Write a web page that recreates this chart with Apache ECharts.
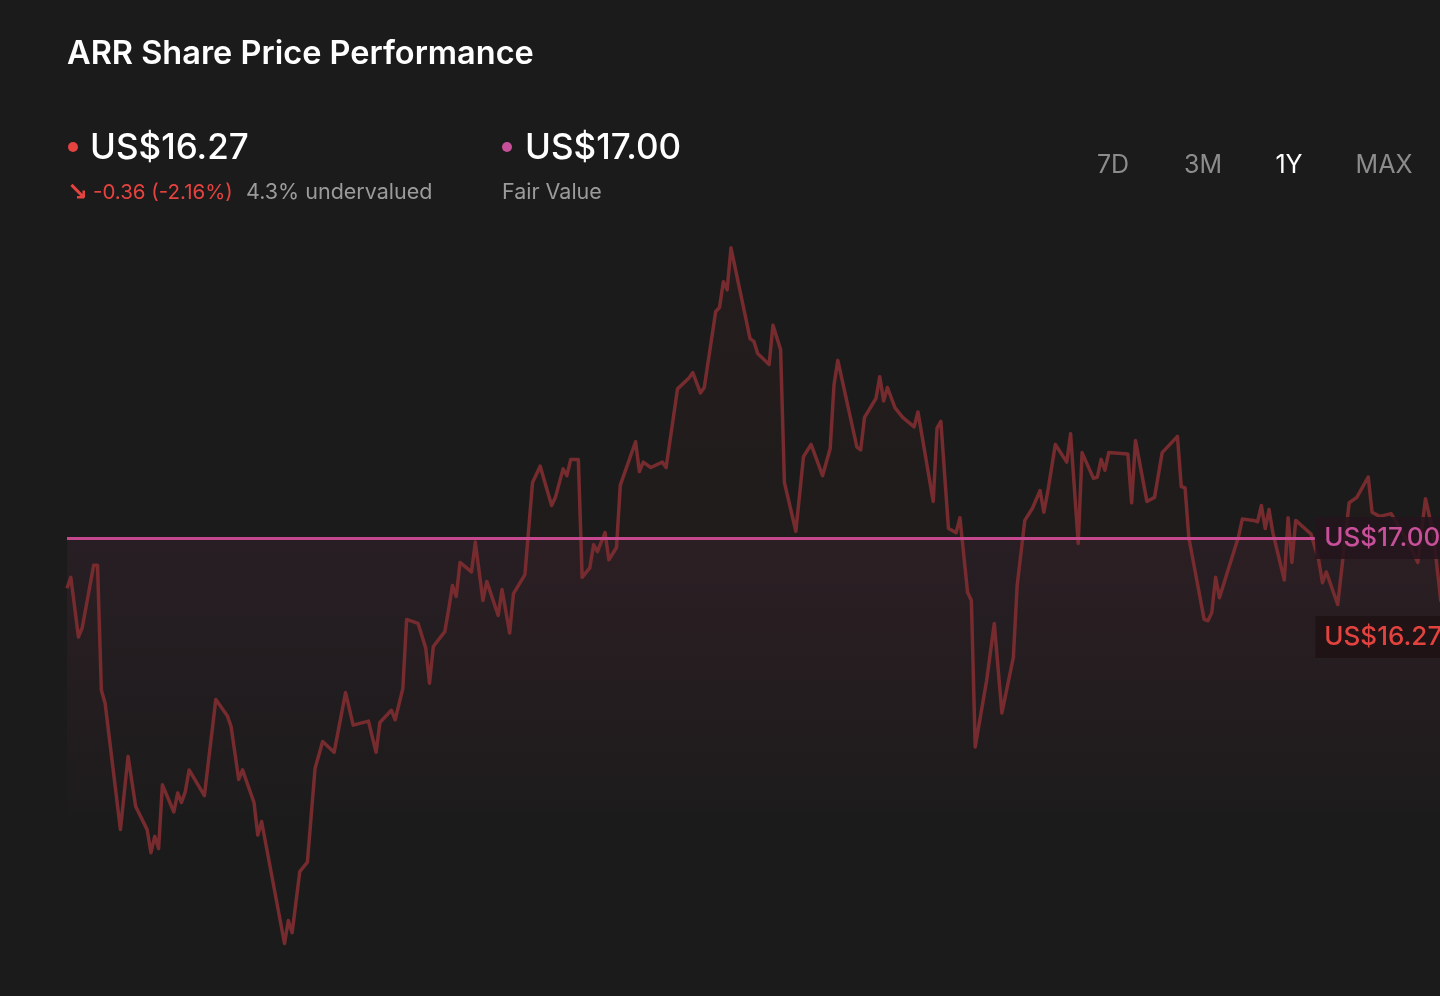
<!DOCTYPE html>
<html>
<head>
<meta charset="utf-8">
<title>ARR Share Price Performance</title>
<script src="https://cdn.jsdelivr.net/npm/echarts@6/dist/echarts.min.js"></script>
<style>
  html, body { margin: 0; padding: 0; background: #1b1b1b; overflow: hidden; }
  #chart { width: 1460px; height: 996px; }
</style>
</head>
<body>
<div id="chart"></div>
<script>
  // daily closes over the year (day index, US$)
  var days = [0,1,3,4,7,8,9,10,14,16,18,21,22,23,24,25,28,29,30,31,32,36,39,42,43,45,46,49,50,51,
    57,58,59,61,63,65,67,70,73,75,79,81,82,85,86,88,89,92,94,95,96,99,100,101,102,103,106,107,109,110,
    113,114,116,117,120,122,124,127,128,130,131,132,134,135,137,138,139,141,142,144,145,149,150,151,153,156,157,160,163,164,
    166,167,170,171,172,173,174,179,180,181,184,185,187,188,191,193,195,198,200,201,202,207,208,209,212,213,214,215,217,219,
    222,223,227,228,229,231,233,234,236,237,238,241,243,245,248,249,251,253,255,256,257,259,262,263,265,266,269,270,271,272,
    273,278,279,280,283,285,287,291,292,293,294,298,299,300,301,302,307,308,311,312,313,314,315,316,319,320,321,322,326,328,
    329,330,333,336,338,341,342,344,347,351,354,356,358,360,362,364];
  var prices = [16.63,16.71,16.27,16.34,16.80,16.80,15.88,15.78,14.85,15.39,15.02,14.85,14.68,14.80,14.71,15.18,14.98,15.12,15.05,15.13,15.29,15.10,15.81,15.69,15.61,15.22,15.29,15.05,14.81,14.91,
    14.01,14.18,14.09,14.54,14.61,15.30,15.50,15.42,15.86,15.62,15.65,15.42,15.64,15.73,15.66,15.89,16.40,16.37,16.19,15.93,16.20,16.31,16.47,16.65,16.57,16.82,16.75,16.97,16.54,16.68,
    16.43,16.62,16.30,16.59,16.73,17.41,17.53,17.24,17.30,17.51,17.46,17.58,17.58,16.71,16.78,16.95,16.90,17.04,16.84,16.93,17.39,17.71,17.49,17.56,17.52,17.56,17.52,18.10,18.18,18.22,
    18.07,18.11,18.67,18.70,18.89,18.83,19.14,18.47,18.45,18.36,18.28,18.57,18.39,17.41,17.05,17.60,17.69,17.46,17.66,18.13,18.31,17.67,17.65,17.89,18.03,18.19,18.01,18.11,17.96,17.89,
    17.82,17.93,17.27,17.81,17.86,17.07,17.04,17.15,16.60,16.54,15.46,15.95,16.37,15.71,16.12,16.65,17.13,17.22,17.35,17.19,17.34,17.69,17.56,17.77,16.96,17.63,17.44,17.45,17.58,17.50,
    17.63,17.62,17.26,17.72,17.27,17.30,17.63,17.75,17.38,17.37,17.00,16.40,16.39,16.45,16.71,16.56,17.01,17.14,17.13,17.12,17.24,17.07,17.21,17.04,16.69,17.15,16.82,17.13,17.03,16.84,
    16.67,16.75,16.51,17.26,17.30,17.45,17.19,17.16,17.18,16.99,16.82,17.29,17.04,16.54,16.45,16.27];

  var lastPrice = 16.27;
  var fairValue = 17.00;
  var periods = ['7D', '3M', '1Y', 'MAX'];
  var activePeriod = '1Y';

  var lastDay = days[days.length - 1];
  var labelDays = 37; // room kept at the right for the price tags

  var seriesData = [];
  for (var i = 0; i < days.length; i++) {
    seriesData.push([days[i], prices[i]]);
  }

  var font = 'Inter, Roboto, "Noto Sans", sans-serif';
  var chart = echarts.init(document.getElementById('chart'));

  var graphics = [
    { type: 'text', style: { text: 'ARR Share Price Performance', x: 67, y: 54, fill: '#ffffff',
      fontSize: 32.5, fontWeight: 600, fontFamily: font, verticalAlign: 'middle' } },
    { type: 'circle', shape: { cx: 73, cy: 147, r: 5 }, style: { fill: '#e5433f' } },
    { type: 'text', style: { text: 'US$' + lastPrice.toFixed(2), x: 90, y: 148, fill: '#ffffff',
      fontSize: 35, fontWeight: 500, fontFamily: font, verticalAlign: 'middle' } },
    { type: 'text', style: { text: '\u2198', x: 67, y: 193, fill: '#e5433f',
      fontSize: 25, fontWeight: 700, fontFamily: '"DejaVu Sans", sans-serif', verticalAlign: 'middle' } },
    { type: 'text', style: { text: '-0.36 (-2.16%)', x: 93, y: 193, fill: '#e5433f',
      fontSize: 20.5, fontFamily: font, verticalAlign: 'middle' } },
    { type: 'text', style: { text: '4.3% undervalued', x: 246, y: 193, fill: '#9b9b9b',
      fontSize: 21.5, fontFamily: font, verticalAlign: 'middle' } },
    { type: 'circle', shape: { cx: 507, cy: 147, r: 5 }, style: { fill: '#c8509a' } },
    { type: 'text', style: { text: 'US$' + fairValue.toFixed(2), x: 525, y: 148, fill: '#ffffff',
      fontSize: 35, fontWeight: 500, fontFamily: font, verticalAlign: 'middle' } },
    { type: 'text', style: { text: 'Fair Value', x: 502, y: 193, fill: '#9b9b9b',
      fontSize: 21.5, fontFamily: font, verticalAlign: 'middle' } }
  ];
  var periodX = [1113, 1203, 1289, 1384];
  for (var p = 0; p < periods.length; p++) {
    graphics.push({ type: 'text', style: { text: periods[p], x: periodX[p], y: 165,
      fill: periods[p] === activePeriod ? '#ffffff' : '#8c8c8c',
      fontSize: 25, fontFamily: font, align: 'center', verticalAlign: 'middle' } });
  }

  var tagStyle = {
    show: true, position: 'right', distance: 0, fontSize: 26, fontWeight: 500, fontFamily: font,
    padding: [8, 9], lineHeight: 26, formatter: '{b}'
  };

  var option = {
    backgroundColor: '#1b1b1b',
    animation: false,
    graphic: graphics,
    grid: { left: 67, right: 4, top: 199, bottom: 24 },
    xAxis: { type: 'value', min: 0, max: lastDay, show: false, splitLine: { show: false } },
    yAxis: { type: 'value', min: 13.8, max: 19.5, show: false, splitLine: { show: false } },
    series: [{
      type: 'line',
      data: seriesData,
      symbol: 'none',
      smooth: false,
      lineStyle: { color: '#762b2e', width: 3.5, join: 'round' },
      areaStyle: {
        color: new echarts.graphic.LinearGradient(0, 240, 0, 830, [
          { offset: 0, color: 'rgba(140,45,45,0.12)' },
          { offset: 1, color: 'rgba(140,45,45,0)' }
        ], true)
      },
      markArea: {
        silent: true,
        itemStyle: {
          color: new echarts.graphic.LinearGradient(0, 538, 0, 840, [
            { offset: 0, color: 'rgba(200,70,140,0.075)' },
            { offset: 1, color: 'rgba(200,70,140,0)' }
          ], true)
        },
        data: [[{ yAxis: fairValue }, { yAxis: 13.8 }]]
      },
      markLine: {
        silent: true,
        symbol: 'none',
        label: { show: false },
        lineStyle: { color: '#c5478d', width: 3, type: 'solid' },
        data: [[{ coord: [0, fairValue] }, { coord: [lastDay - labelDays, fairValue] }]]
      },
      markPoint: {
        silent: true,
        symbol: 'rect',
        symbolSize: 1,
        itemStyle: { color: 'rgba(0,0,0,0)' },
        data: [
          { name: 'US$' + fairValue.toFixed(2), coord: [lastDay - labelDays, fairValue],
            label: Object.assign({}, tagStyle, { color: '#c8509a', backgroundColor: 'rgba(36,20,28,0.85)' }) },
          { name: 'US$' + lastPrice.toFixed(2), coord: [lastDay - labelDays, lastPrice],
            label: Object.assign({}, tagStyle, { color: '#e3433f', backgroundColor: 'rgba(30,18,20,0.85)' }) }
        ]
      }
    }]
  };

  chart.setOption(option);
</script>
</body>
</html>
